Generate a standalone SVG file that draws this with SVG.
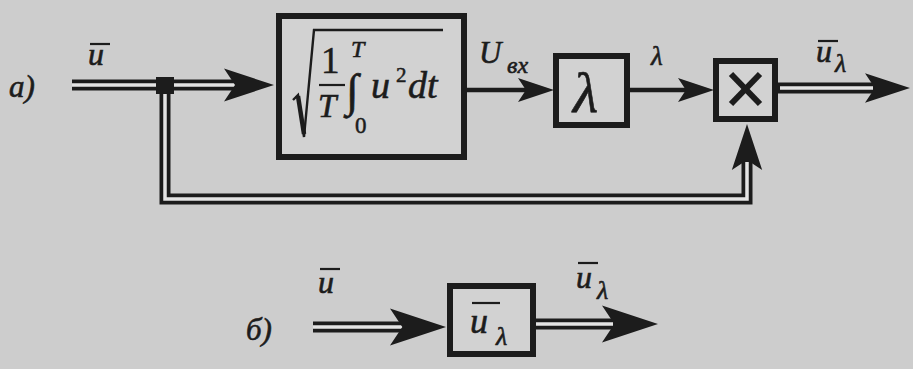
<svg xmlns="http://www.w3.org/2000/svg" width="913" height="369" viewBox="0 0 913 369">
<style>
.dk{fill:none;stroke:#1c1c1c;stroke-linejoin:miter}
.dbl{fill:none;stroke:#1c1c1c;stroke-width:11;stroke-linejoin:miter}
.in{fill:none;stroke:#e4e4e4;stroke-width:3.5;stroke-linejoin:miter}
.box{fill:#d2d2d2;stroke:#1c1c1c;stroke-width:6}
.t{font-family:"Liberation Serif","Times New Roman",serif;font-style:italic;fill:#1c1c1c;stroke:#1c1c1c;stroke-width:0.6}
.r{font-family:"Liberation Serif","Times New Roman",serif;fill:#1c1c1c;stroke:#1c1c1c;stroke-width:0.5}
.ah{fill:#1c1c1c}
.ov{stroke:#1c1c1c;stroke-width:2.2}
</style>
<defs>
<path id="ah" d="M0,0 L-1,-0.33 L-0.78,0 L-1,0.33 Z"/>
</defs>
<rect width="913" height="369" fill="#cdcdcd"/>
<g id="connectors">
<line class="dbl" x1="72" y1="85" x2="240" y2="85"/>
<line class="in" x1="72" y1="85" x2="156" y2="85"/>
<line class="in" x1="174" y1="85" x2="238" y2="85"/>
<use href="#ah" class="ah" transform="translate(274,85) scale(50)"/>
<polyline class="dbl" points="165,85 165,199 747,199 747,160"/>
<polyline class="in" points="165,94 165,199 747,199 747,162"/>
<rect x="156" y="77" width="18" height="17" fill="#1c1c1c"/>
<use href="#ah" class="ah" transform="translate(747,124) rotate(-90) scale(46)"/>
<line class="dk" stroke-width="4.5" x1="467" y1="90" x2="530" y2="90"/>
<use href="#ah" class="ah" transform="translate(554,90) scale(36)"/>
<line class="dk" stroke-width="4.5" x1="630" y1="90" x2="690" y2="90"/>
<use href="#ah" class="ah" transform="translate(714,90) scale(36)"/>
<line class="dbl" x1="778" y1="88" x2="875" y2="88"/>
<line class="in" x1="780" y1="88" x2="873" y2="88"/>
<use href="#ah" class="ah" transform="translate(910,88) scale(45)"/>
<line class="dbl" x1="313" y1="327" x2="405" y2="327"/>
<line class="in" x1="313" y1="327" x2="403" y2="327"/>
<use href="#ah" class="ah" transform="translate(446,327) scale(56)"/>
<line class="dbl" x1="533" y1="324" x2="615" y2="324"/>
<line class="in" x1="536" y1="324" x2="613" y2="324"/>
<use href="#ah" class="ah" transform="translate(658,324) scale(56)"/>
</g>
<g id="labels">
<text class="t" x="9" y="97" font-size="31">a)</text>
<text class="t" x="88" y="65" font-size="32">u</text>
<line class="ov" x1="90" y1="44" x2="110" y2="44"/>
<text class="t" x="479" y="63" font-size="31">U</text>
<text class="t" x="507" y="73" font-size="24">вх</text>
<text class="t" x="651" y="65" font-size="27">λ</text>
<text class="t" x="816" y="62" font-size="32">u</text>
<line class="ov" x1="818" y1="41" x2="838" y2="41"/>
<text class="t" x="835" y="72" font-size="26">λ</text>
<text class="t" x="246" y="340" font-size="31">б)</text>
<text class="t" x="318" y="293" font-size="32">u</text>
<line class="ov" x1="320" y1="269" x2="340" y2="269"/>
<text class="t" x="576" y="288" font-size="32">u</text>
<line class="ov" x1="578" y1="263" x2="598" y2="263"/>
<text class="t" x="597" y="299" font-size="26">λ</text>
</g>
<g id="rms">
<rect class="box" x="279" y="16" width="185" height="141"/>
<polyline class="dk" stroke-width="2.4" points="293,100 298,95 304,137 314,30 443,30"/>
<line class="dk" stroke-width="4.5" x1="298" y1="96" x2="304" y2="134"/>
<text class="r" x="321" y="73" font-size="37">1</text>
<line class="ov" x1="319" y1="85" x2="345" y2="85"/>
<text class="t" x="318" y="117" font-size="33">T</text>
<text class="t" x="346" y="106" font-size="46">∫</text>
<text class="t" x="351" y="57" font-size="24">T</text>
<text class="r" x="355" y="133" font-size="23">0</text>
<text class="t" x="371" y="98" font-size="38">u</text>
<text class="r" x="396" y="82" font-size="21">2</text>
<text class="t" x="408" y="98" font-size="38">dt</text>
</g>
<g id="lambda">
<rect class="box" x="556" y="56" width="71" height="69"/>
<text class="t" x="573" y="112" font-size="58">λ</text>
</g>
<g id="mult">
<rect class="box" x="716" y="61" width="59" height="58"/>
<line class="dk" stroke-width="6" x1="731" y1="74" x2="760" y2="104"/>
<line class="dk" stroke-width="6" x1="760" y1="74" x2="731" y2="104"/>
</g>
<g id="block-b">
<rect class="box" x="450" y="286" width="83" height="68"/>
<text class="t" x="470" y="333" font-size="36">u</text>
<line class="ov" x1="472" y1="303" x2="500" y2="303"/>
<text class="t" x="496" y="345" font-size="26">λ</text>
</g>
</svg>
